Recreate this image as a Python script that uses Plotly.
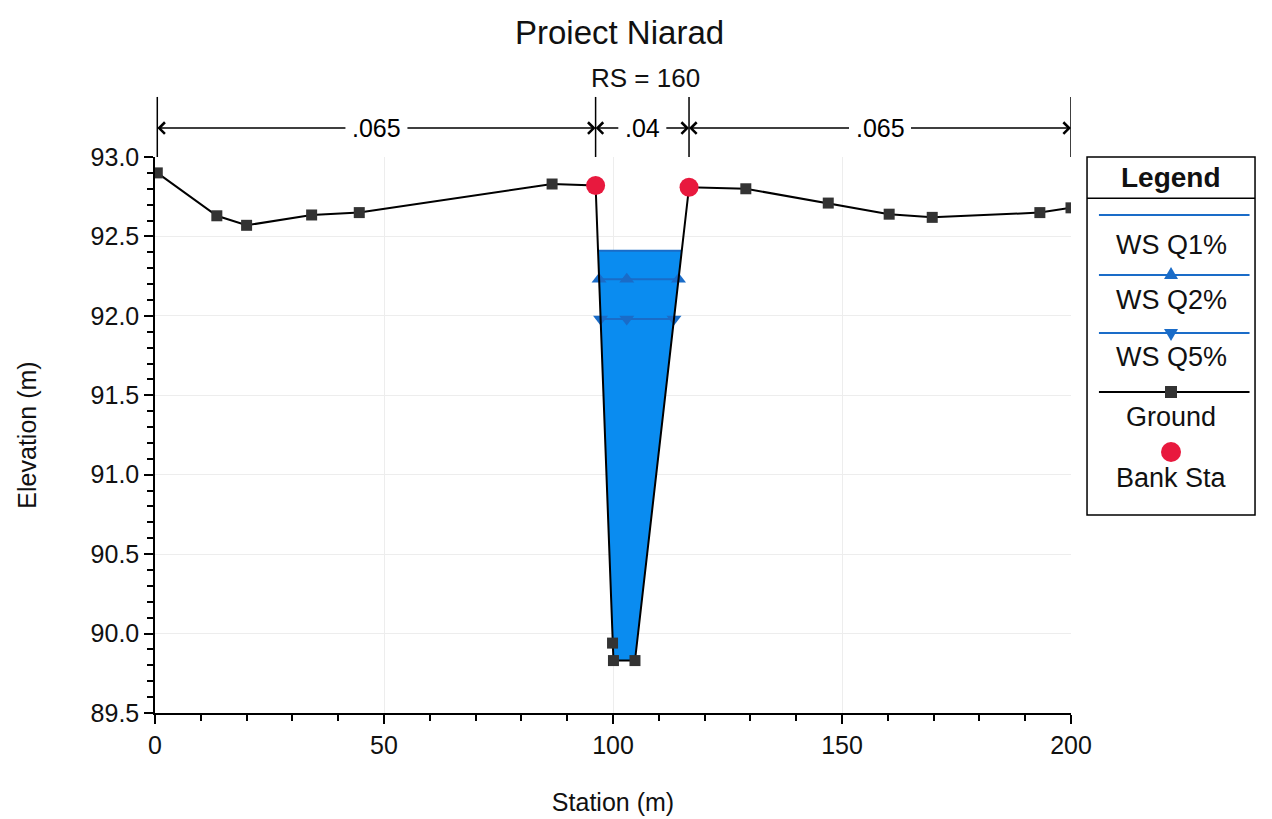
import plotly.graph_objects as go

# cross section RS = 160
station = [0.5, 13.5, 20.0, 34.2, 44.6, 86.7, 96.2, 99.9, 100.1, 104.8, 116.6,
           129.0, 147.0, 160.3, 169.7, 193.2, 200.0]
elevation = [92.90, 92.63, 92.57, 92.635, 92.65, 92.83, 92.82, 89.94, 89.83, 89.83, 92.81,
             92.80, 92.71, 92.64, 92.62, 92.65, 92.68]
bank_idx = [6, 10]

profiles = ["WS Q1%", "WS Q2%", "WS Q5%"]
ws_elev = [92.41, 92.23, 91.98]
ws_symbols = [None, "triangle-up", "triangle-down"]
ws_mid_sta = 103.0

mann_n = [".065", ".04", ".065"]

FONT = "Arial, Liberation Sans, sans-serif"
WATER = "#0a8cf0"
WSLINE = "#1a6cc8"


def water_outline(sta, z, level):
    xs, ys = [], []
    for i in range(len(sta)):
        if i > 0:
            z0, z1 = z[i - 1] - level, z[i] - level
            if z0 * z1 < 0:
                t = z0 / (z0 - z1)
                xs.append(sta[i - 1] + t * (sta[i] - sta[i - 1]))
                ys.append(level)
        if z[i] < level:
            xs.append(sta[i])
            ys.append(z[i])
    return xs, ys


lb, rb = bank_idx
ch_sta = station[lb:rb + 1]
ch_z = elevation[lb:rb + 1]

fig = go.Figure()

# water fill under the highest profile
wx, wy = water_outline(ch_sta, ch_z, max(ws_elev))
fig.add_trace(go.Scatter(x=wx, y=wy, fill="toself", fillcolor=WATER, mode="none",
                         showlegend=False, hoverinfo="skip"))

for name, lev, sym in zip(profiles, ws_elev, ws_symbols):
    ox, oy = water_outline(ch_sta, ch_z, lev)
    xs = [ox[0], ws_mid_sta, ox[-1]]
    ys = [lev, lev, lev]
    if sym:
        fig.add_trace(go.Scatter(x=xs, y=ys, mode="lines+markers", name=name,
                                 line=dict(color=WSLINE, width=2),
                                 marker=dict(symbol=sym, size=13, color=WSLINE),
                                 showlegend=False))
    else:
        fig.add_trace(go.Scatter(x=xs, y=ys, mode="lines", name=name,
                                 line=dict(color=WSLINE, width=2), showlegend=False))

fig.add_trace(go.Scatter(x=station, y=elevation, mode="lines+markers", name="Ground",
                         line=dict(color="black", width=2),
                         marker=dict(symbol="square", size=11, color="#333333"),
                         showlegend=False))
fig.add_trace(go.Scatter(x=[station[i] for i in bank_idx], y=[elevation[i] for i in bank_idx],
                         mode="markers", name="Bank Sta",
                         marker=dict(symbol="circle", size=19, color="#e8193e"),
                         showlegend=False))

shapes = []
annotations = []

# Manning's n bands above the plot
bounds = [station[0], station[lb], station[rb], station[-1]]
y_top, y_arr = 1.108, 1.052
for b in bounds:
    shapes.append(dict(type="line", xref="x", yref="paper", x0=b, x1=b, y0=1.0, y1=y_top,
                       line=dict(color="black", width=1.5)))
for k, n in enumerate(mann_n):
    a, b = bounds[k], bounds[k + 1]
    mid = (a + b) / 2
    for end, col in ((a, "black"), (b, "rgba(0,0,0,0)")):
        annotations.append(dict(x=end, y=y_arr, xref="x", yref="paper", ax=mid, ay=0,
                                axref="x", ayref="pixel", text=n, showarrow=True,
                                arrowhead=4, arrowsize=1.5, arrowwidth=1.5, arrowcolor="black",
                                standoff=0, borderpad=6,
                                font=dict(family=FONT, size=25, color=col)))

# titles
annotations.append(dict(x=0.507, y=1.2248, xref="paper", yref="paper", text="Proiect Niarad",
                        xanchor="center", yanchor="middle",
                        showarrow=False, font=dict(family=FONT, size=33, color="#111")))
annotations.append(dict(x=0.535, y=1.142, xref="paper", yref="paper", text="RS = 160",
                        xanchor="center", yanchor="middle",
                        showarrow=False, font=dict(family=FONT, size=26, color="#111")))

# hand drawn legend box
LX0, LX1 = 1.0175, 1.2009
LXC = (LX0 + LX1) / 2
shapes.append(dict(type="rect", xref="paper", yref="paper", x0=LX0, x1=LX1, y0=0.356, y1=1.0,
                   line=dict(color="black", width=1.5), fillcolor="white"))
shapes.append(dict(type="line", xref="paper", yref="paper", x0=LX0, x1=LX1, y0=0.926, y1=0.926,
                   line=dict(color="black", width=1.5)))
annotations.append(dict(x=LXC, y=0.964, xref="paper", yref="paper", text="<b>Legend</b>",
                        xanchor="center", yanchor="middle",
                        showarrow=False, font=dict(family=FONT, size=28, color="#111")))

items = [("WS Q1%", WSLINE, None, 0.8957, 0.8417),
         ("WS Q2%", WSLINE, "up", 0.7878, 0.7428),
         ("WS Q5%", WSLINE, "down", 0.6835, 0.6403),
         ("Ground", "black", "square", 0.5773, 0.5324),
         ("Bank Sta", None, "circle", 0.4694, 0.4227)]
for label, col, sym, yl, yt in items:
    if col:
        shapes.append(dict(type="line", xref="paper", yref="paper", x0=LX0 + 0.013, x1=LX1 - 0.006,
                           y0=yl, y1=yl, line=dict(color=col, width=2)))
    if sym == "up":
        shapes.append(dict(type="path", xref="paper", yref="paper", xsizemode="pixel",
                           ysizemode="pixel", xanchor=LXC, yanchor=yl,
                           path="M -7 -4 L 7 -4 L 0 8 Z", fillcolor=WSLINE, line=dict(width=0)))
    elif sym == "down":
        shapes.append(dict(type="path", xref="paper", yref="paper", xsizemode="pixel",
                           ysizemode="pixel", xanchor=LXC, yanchor=yl,
                           path="M -7 4 L 7 4 L 0 -8 Z", fillcolor=WSLINE, line=dict(width=0)))
    elif sym == "square":
        shapes.append(dict(type="rect", xref="paper", yref="paper", xsizemode="pixel",
                           ysizemode="pixel", xanchor=LXC, yanchor=yl, x0=-6, x1=6, y0=-6, y1=6,
                           fillcolor="#333333", line=dict(width=0)))
    elif sym == "circle":
        shapes.append(dict(type="circle", xref="paper", yref="paper", xsizemode="pixel",
                           ysizemode="pixel", xanchor=LXC, yanchor=yl, x0=-10, x1=10, y0=-10, y1=10,
                           fillcolor="#e8193e", line=dict(width=0)))
    annotations.append(dict(x=LXC, y=yt, xref="paper", yref="paper", text=label,
                            xanchor="center", yanchor="middle",
                            showarrow=False, font=dict(family=FONT, size=27, color="#111")))

# page body has an 8px margin, so the figure is sized to fit the 1272x819 window
fig.update_layout(
    width=1264, height=811,
    margin=dict(l=147, r=201, t=149, b=106),
    paper_bgcolor="white", plot_bgcolor="white",
    font=dict(family=FONT, size=25, color="#111"),
    showlegend=False,
    shapes=shapes, annotations=annotations,
    xaxis=dict(range=[0, 200], dtick=50, showline=True, linecolor="black", linewidth=1.5,
               ticks="outside", ticklen=9, tickwidth=1.5, tickcolor="black",
               showgrid=True, gridcolor="#ededed", zeroline=False, automargin=False,
               tickfont=dict(size=25),
               minor=dict(dtick=10, ticks="outside", ticklen=6, tickcolor="black", showgrid=False),
               title=dict(text="Station (m)", font=dict(size=25), standoff=36)),
    yaxis=dict(range=[89.5, 93.0], dtick=0.5, tickformat=".1f", showline=True, linecolor="black",
               linewidth=1.5, ticks="outside", ticklen=9, tickwidth=1.5, tickcolor="black",
               showgrid=True, gridcolor="#ededed", zeroline=False, automargin=False,
               tickfont=dict(size=25),
               minor=dict(dtick=0.1, ticks="outside", ticklen=6, tickcolor="black", showgrid=False),
               title=dict(text="Elevation (m)", font=dict(size=25), standoff=47)),
)

fig.write_html("out.html")
